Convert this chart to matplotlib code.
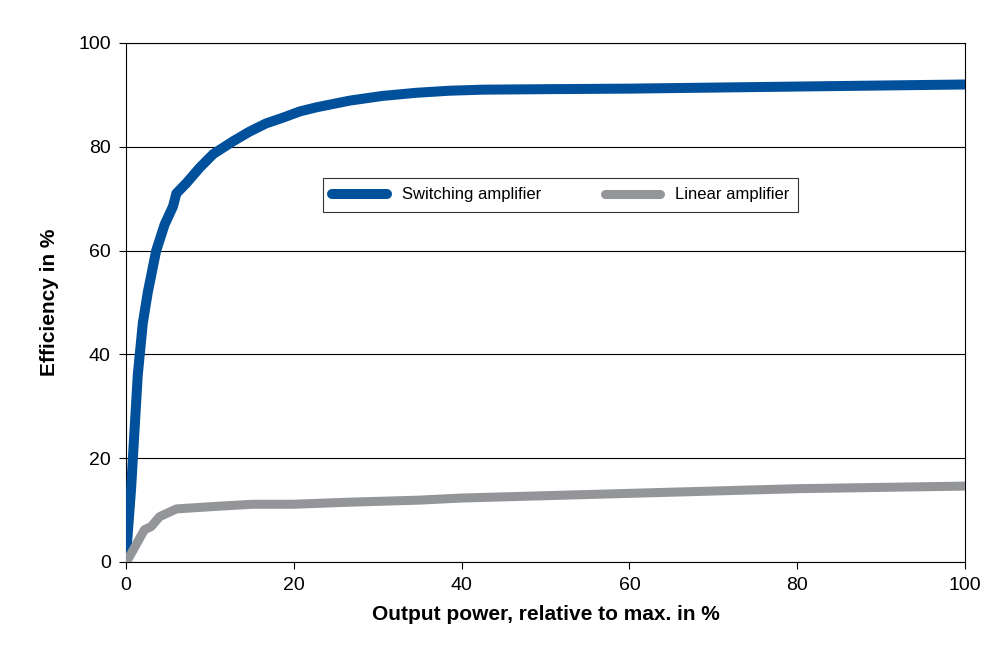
import matplotlib
matplotlib.use("Agg")
import matplotlib.pyplot as plt

plt.rcParams['font.family'] = ['Liberation Sans', 'DejaVu Sans']

sw_x = [0, 0.6, 1.4, 2.0, 2.6, 3.6, 4.6, 5.6, 6.0, 7.2, 8.8, 10.4, 12.7, 14.7,
        16.7, 18.7, 20.7, 22.7, 26.7, 30.6, 34.6, 38.6, 42.6, 50.5, 60, 80, 100]
sw_y = [1, 14, 36, 46, 52, 60, 65, 68.5, 71, 73, 76, 78.6, 81, 82.9,
        84.5, 85.6, 86.8, 87.6, 88.9, 89.8, 90.4, 90.8, 91.0, 91.1, 91.2, 91.6, 92]

lin_x = [0.2, 2.2, 3.0, 4.0, 6.0, 10.8, 15.1, 19.9, 26.7, 35, 40, 60, 80, 100]
lin_y = [0.4, 6.2, 6.8, 8.7, 10.2, 10.7, 11.1, 11.1, 11.5, 11.9, 12.3, 13.2, 14.1, 14.6]

fig = plt.figure(figsize=(9.97, 6.61), dpi=100)
ax = fig.add_axes([0.1264, 0.150, 0.8416, 0.785])

ax.plot(sw_x, sw_y, color='#00509b', linewidth=7.2, solid_capstyle='round',
        solid_joinstyle='round', label='Switching amplifier', zorder=3)
ax.plot(lin_x, lin_y, color='#939598', linewidth=6.5, solid_capstyle='round',
        solid_joinstyle='round', label='Linear amplifier', zorder=3)

ax.set_xlim(0, 100)
ax.set_ylim(0, 100)
ax.set_xticks(range(0, 101, 20))
ax.set_yticks(range(0, 101, 20))
ax.yaxis.grid(True, color='black', linewidth=0.8)
ax.set_axisbelow(True)
ax.tick_params(direction='out', length=5, width=0.8, labelsize=14, pad=6)
for s in ax.spines.values():
    s.set_linewidth(0.8)

ax.set_xlabel('Output power, relative to max. in %', fontsize=15, fontweight='bold', labelpad=8)
ax.set_ylabel('Efficiency in %', fontsize=15, fontweight='bold', labelpad=14)

leg = ax.legend(loc='center', bbox_to_anchor=(0.518, 0.707), ncol=2, fontsize=12,
                frameon=True, fancybox=False, handlelength=3.3, columnspacing=3.8,
                borderpad=0.55, handletextpad=0.9)
leg.get_frame().set_edgecolor('black')
leg.get_frame().set_linewidth(0.8)

fig.savefig('out.png', dpi=100)
